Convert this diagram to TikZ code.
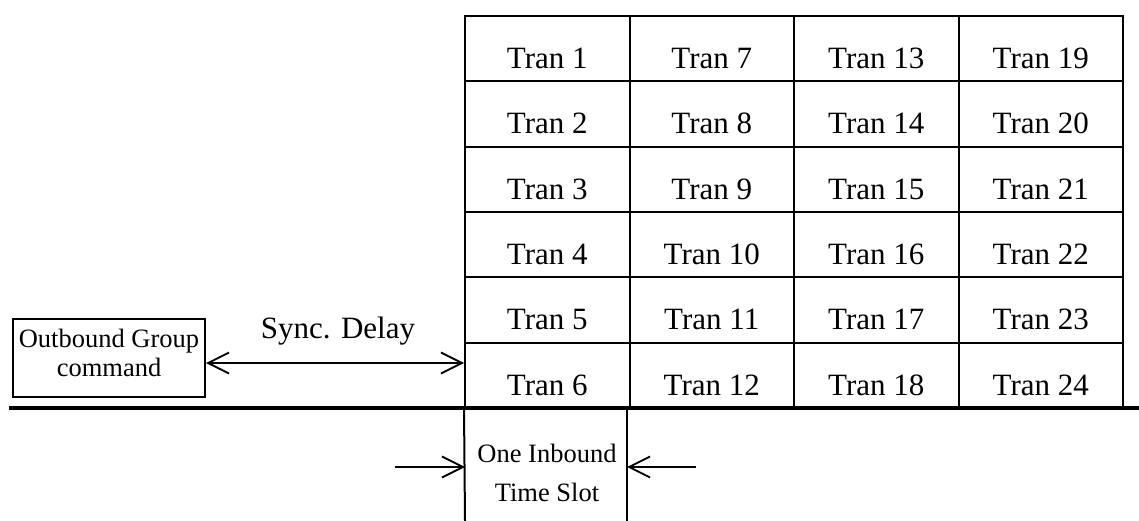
\documentclass[tikz,border=0pt]{standalone}
\usepackage{fontspec}
\setmainfont{Liberation Serif}
\usetikzlibrary{arrows.meta}
\begin{document}
\begin{tikzpicture}[x=1pt,y=-1pt, line width=2pt,
  cell/.style={draw, minimum width=164.5pt, minimum height=65.33pt, inner sep=0pt,
    font=\fontsize{31}{37}\selectfont, text height=40pt, text depth=0pt},
  small/.style={font=\fontsize{26.5}{29}\selectfont, align=center, inner sep=0pt},
  barb/.style={{Straight Barb[length=21pt,width=21pt]}-{Straight Barb[length=21pt,width=21pt]}},
  rbarb/.style={-{Straight Barb[length=21pt,width=21pt]}}]
\useasboundingbox (0,0) rectangle (1139,521);
\foreach \c in {0,...,3}{
  \foreach \r in {0,...,5}{
    \pgfmathtruncatemacro\n{\c*6+\r+1}
    \node[cell] (t\n) at ({465+164.5*\c+82.25},{16+65.33*\r+32.67}) {Tran \n};
  }
}
% thick base line
\coordinate (L) at (9,408);
\coordinate (R) at (1139,408);
\draw[line width=4pt] (L) -- (R);
% outbound box
\node[draw, small, minimum width=192pt, minimum height=78pt, text depth=9.4pt] (og) at (109,358) {Outbound Group\\command};
% sync delay
\coordinate (sy) at (0,363);
\draw[line width=1.8pt, barb] (og.east |- sy) -- (t6.west |- sy);
\node[font=\fontsize{31}{37}\selectfont, anchor=base, inner sep=0pt] (sd) at (338,338) {Sync. Delay};
% inbound time slot
\coordinate (b1) at (465,521);
\coordinate (c1) at (627,408);
\coordinate (c2) at (627,521);
\draw (t6.south west) -- (b1);
\draw (c1) -- (c2);
\node[small, font=\fontsize{26.5}{38.7}\selectfont] (slot) at (547,473) {One Inbound\\Time Slot};
\coordinate (la) at (395,467);
\coordinate (ra) at (696,467);
\draw[line width=1.8pt, rbarb] (la) -- (la -| b1);
\draw[line width=1.8pt, rbarb] (ra) -- (ra -| c2);
\end{tikzpicture}
\end{document}
